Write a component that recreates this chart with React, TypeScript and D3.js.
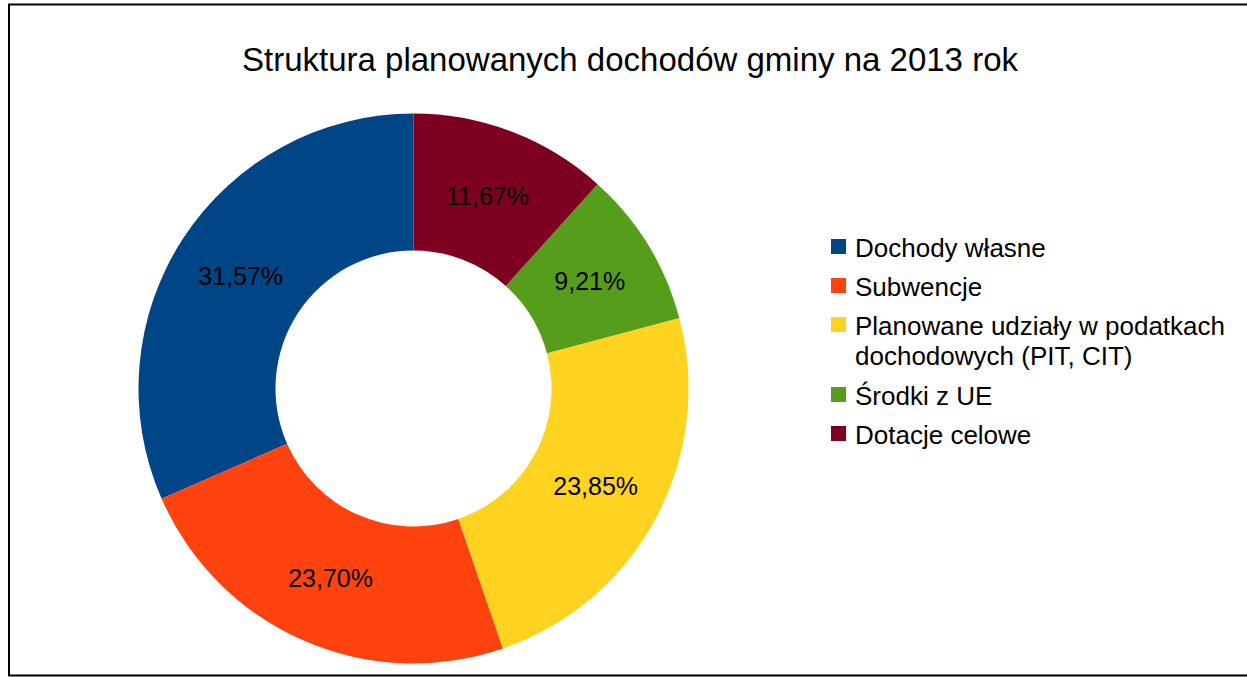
import React from "react";
import * as d3 from "d3";

// Dane wykresu
const categories = [
    "Dochody własne",
    "Subwencje",
    "Planowane udziały w podatkach dochodowych (PIT, CIT)",
    "Środki z UE",
    "Dotacje celowe",
];
const legendLines = [
    ["Dochody własne"],
    ["Subwencje"],
    ["Planowane udziały w podatkach", "dochodowych (PIT, CIT)"],
    ["Środki z UE"],
    ["Dotacje celowe"],
];
const shares = [31.57, 23.7, 23.85, 9.21, 11.67];
const colors = ["#004586", "#ff420e", "#ffd320", "#579d1c", "#7e0021"];

const W = 1247;
const H = 677;
const FONT = "'Liberation Sans', Arial, sans-serif";

const App: React.FC = () => {
    const cx = 413.5;
    const cy = 388.5;
    const outerR = 275;
    const innerR = 138;

    // kierunek przeciwny do wskazówek zegara od godziny 12
    const pie = d3.pie<number>().sort(null).startAngle(0).endAngle(-2 * Math.PI);
    const arcs = pie(shares);
    const arc = d3.arc<d3.PieArcDatum<number>>().innerRadius(innerR).outerRadius(outerR);

    const fmt = (v: number) => v.toFixed(2).replace(".", ",") + "%";

    // Legenda
    const legX = 831;
    const sq = 15;
    let y = 246.5;
    const rows = legendLines.map((lines, i) => {
        const row = { y, lines, i };
        y += 39 + (lines.length - 1) * 31;
        return row;
    });

    return (
        <svg width={W} height={H} style={{ position: "absolute", left: 0, top: 0, background: "#fff" }}>
            <rect x={9} y={4.5} width={W + 20} height={671} fill="#fff" stroke="#000" strokeWidth={2} />

            <text x={630} y={71} textAnchor="middle" fontFamily={FONT} fontSize={33} fill="#000">
                Struktura planowanych dochodów gminy na 2013 rok
            </text>

            <g transform={`translate(${cx},${cy})`}>
                {arcs.map((a, i) => (
                    <path key={categories[i]} d={arc(a) ?? ""} fill={colors[i]} />
                ))}
                {arcs.map((a, i) => {
                    const [x, yy] = arc.centroid(a);
                    return (
                        <text key={"l" + i} x={x} y={yy} dy="0.36em" textAnchor="middle"
                            fontFamily={FONT} fontSize={25} fill="#000">
                            {fmt(shares[i])}
                        </text>
                    );
                })}
            </g>

            <g fontFamily={FONT} fontSize={26} fill="#000">
                {rows.map((r) => (
                    <g key={categories[r.i]}>
                        <rect x={legX} y={r.y - sq / 2} width={sq} height={sq} fill={colors[r.i]} />
                        {r.lines.map((t, k) => (
                            <text key={k} x={855} y={r.y + 10.5 + k * 30}>{t}</text>
                        ))}
                    </g>
                ))}
            </g>
        </svg>
    );
};

export default App;
